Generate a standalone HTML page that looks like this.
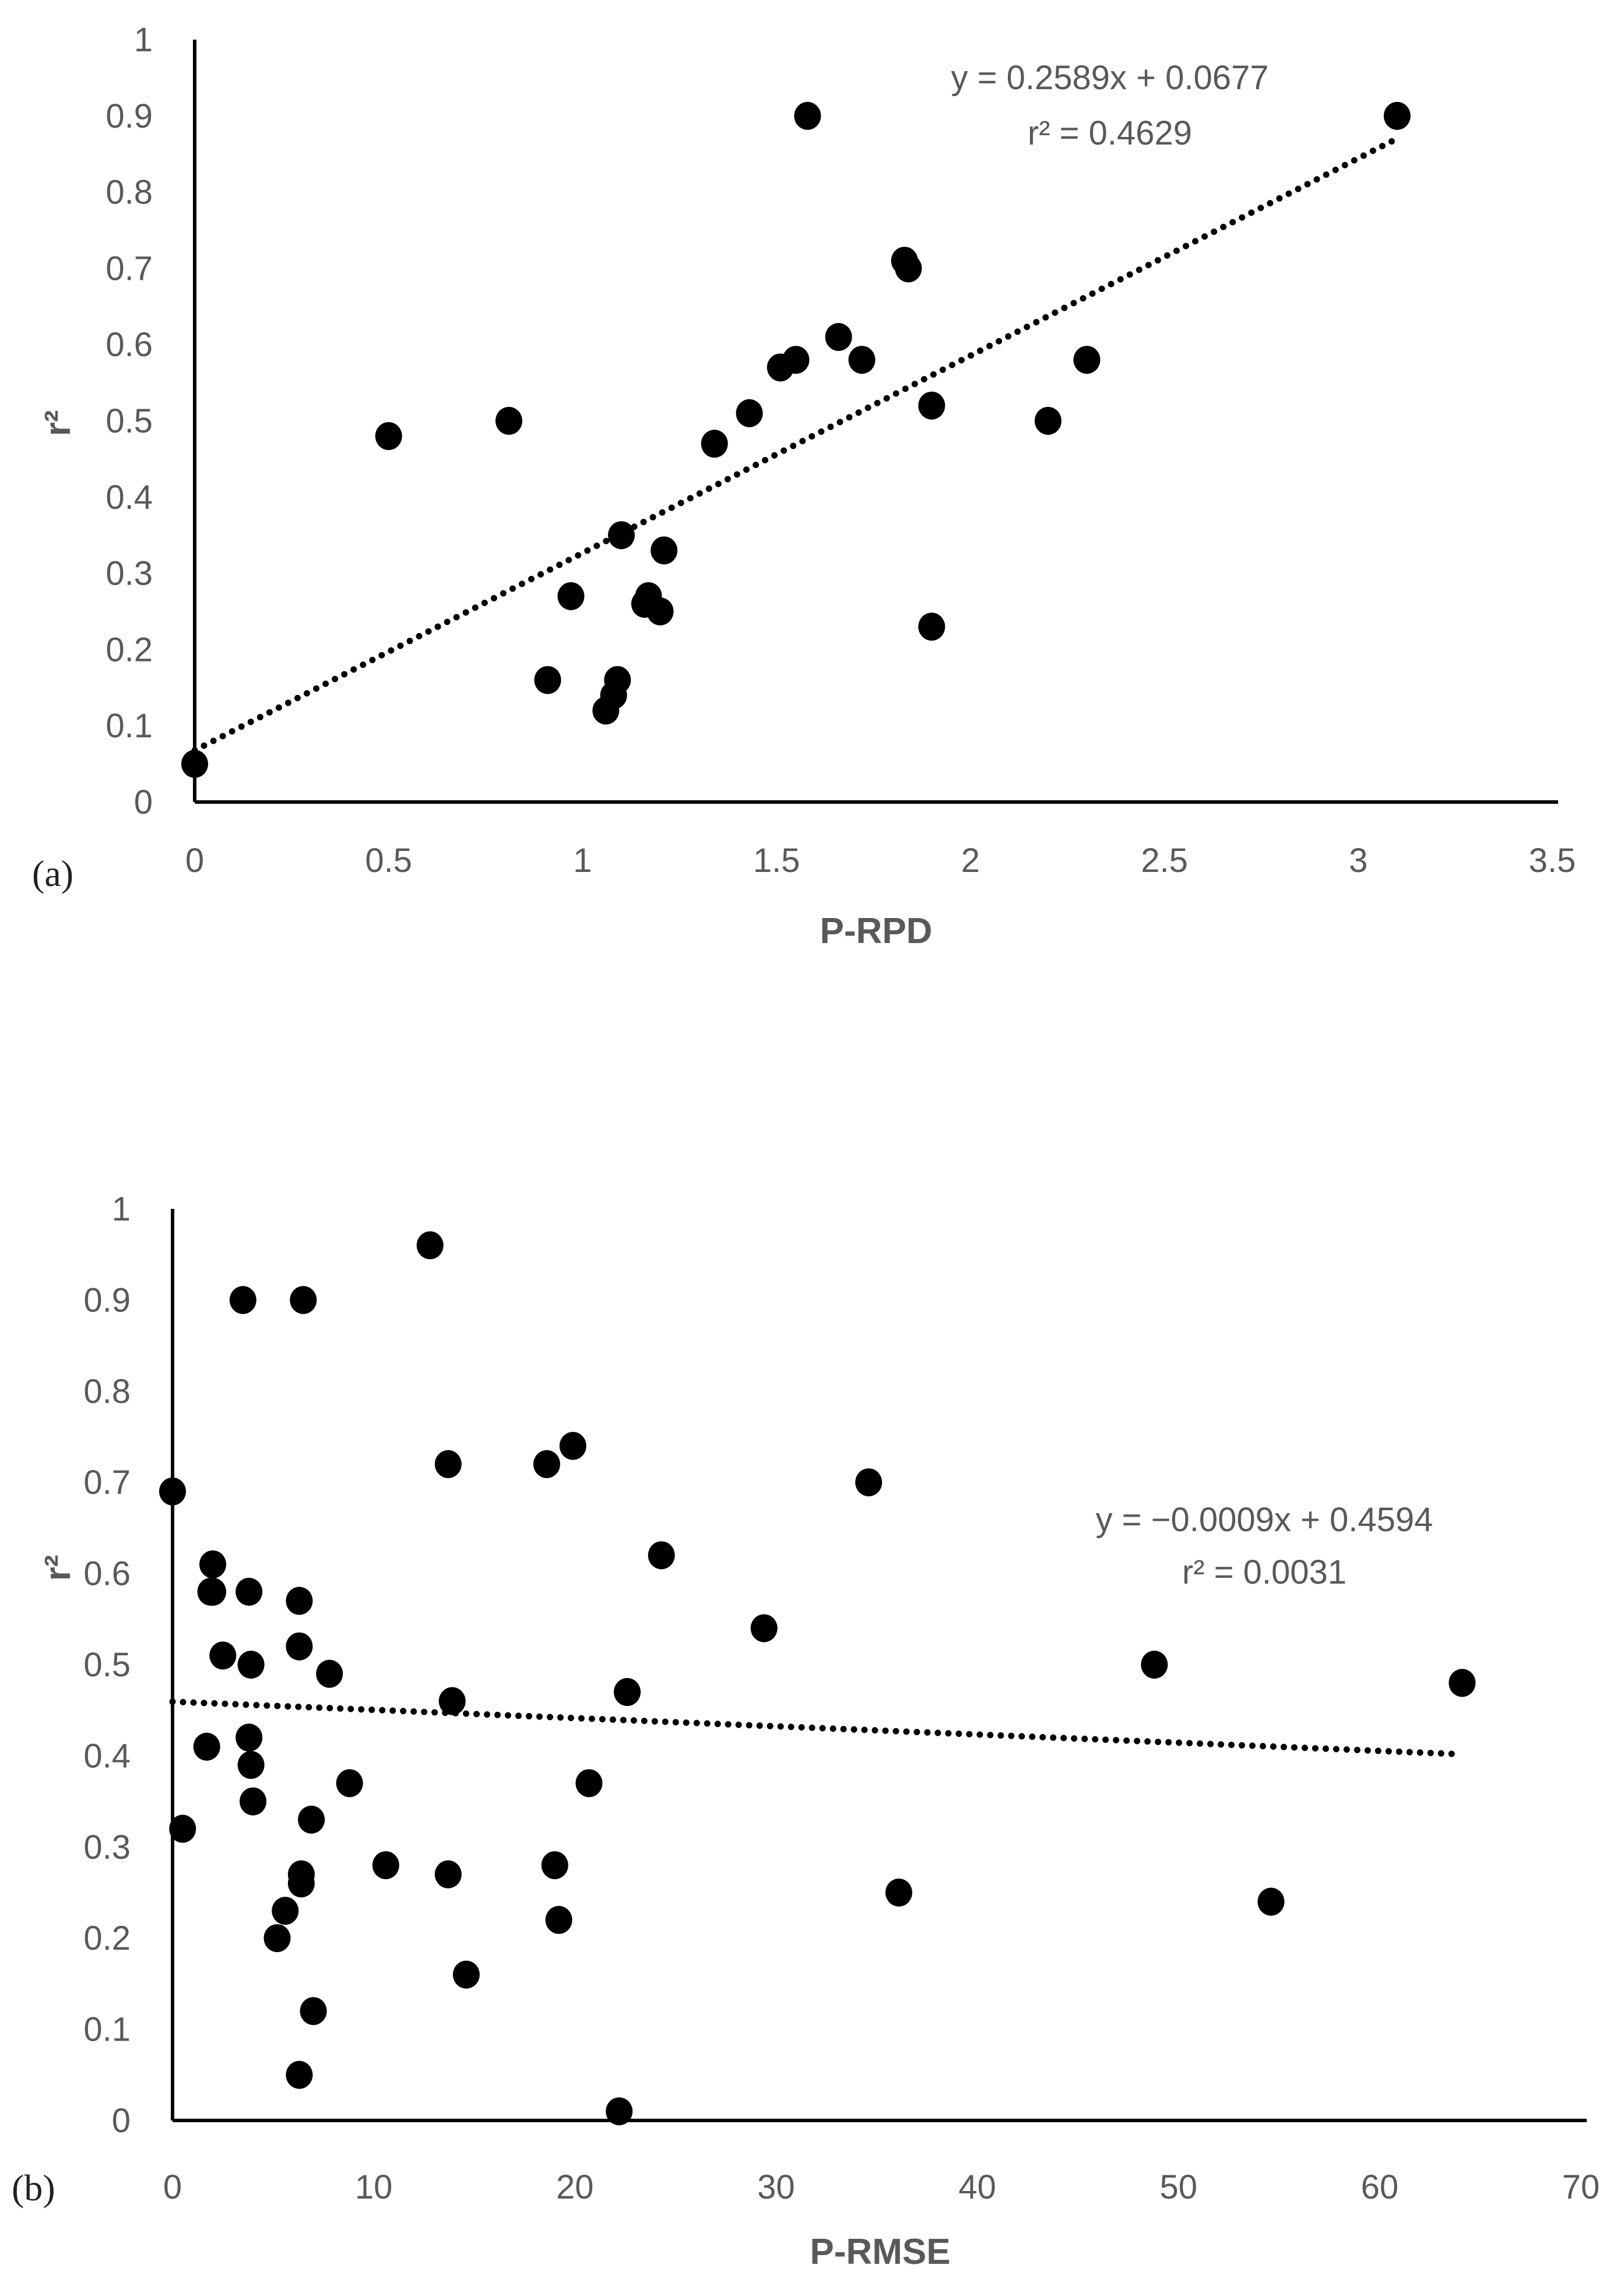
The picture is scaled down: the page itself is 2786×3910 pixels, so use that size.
<!DOCTYPE html>
<html><head><meta charset="utf-8"><style>
html,body{margin:0;padding:0;background:#fff}
svg{display:block}
text{font-family:"Liberation Sans Narrow","Liberation Sans",sans-serif;fill:#595959}
</style></head><body>
<svg id="svg" width="2786" height="3910" viewBox="0 0 2786 3910" xmlns="http://www.w3.org/2000/svg"></svg>
<script>
const aX=[0,0.5,0.81,0.91,0.97,1.06,1.08,1.09,1.1,1.16,1.17,1.2,1.21,1.34,1.43,1.51,1.55,1.58,1.66,1.72,1.83,1.84,1.9,1.9,2.2,2.3,3.1];
const aY=[0.05,0.48,0.5,0.16,0.27,0.12,0.14,0.16,0.35,0.26,0.27,0.25,0.33,0.47,0.51,0.57,0.58,0.9,0.61,0.58,0.71,0.7,0.52,0.23,0.5,0.58,0.9];
const bX=[0,0.5,1.7,1.9,2,2,2.5,3.5,3.8,3.8,3.9,3.9,4,5.2,5.6,6.3,6.3,6.4,6.4,6.3,6.5,6.9,7,7.8,8.8,10.6,12.8,13.7,13.7,13.9,14.6,18.6,19,19.2,19.9,20.7,22.2,22.6,24.3,29.4,34.6,36.1,48.8,54.6,64.1];
const bY=[0.69,0.32,0.41,0.58,0.61,0.58,0.51,0.9,0.58,0.42,0.5,0.39,0.35,0.2,0.23,0.57,0.52,0.27,0.26,0.05,0.9,0.33,0.12,0.49,0.37,0.28,0.96,0.72,0.27,0.46,0.16,0.72,0.28,0.22,0.74,0.37,0.01,0.47,0.62,0.54,0.7,0.25,0.5,0.24,0.48];
const aXTicks=["0","0.5","1","1.5","2","2.5","3","3.5"];
const bXTicks=["0","10","20","30","40","50","60","70"];
const yTicks=["0","0.1","0.2","0.3","0.4","0.5","0.6","0.7","0.8","0.9","1"];
const aTrend=[0.2589,0.0677], bTrend=[-0.0009,0.4594];

const svg=document.getElementById('svg');
const NS='http://www.w3.org/2000/svg';
function mk(tag,attrs,text){const e=document.createElementNS(NS,tag);for(const k in attrs)e.setAttribute(k,attrs[k]);if(text!==undefined)e.textContent=text;svg.appendChild(e);return e;}

function chart(p){
  const sx=v=>p.x0+(v-p.xmin)/(p.xmax-p.xmin)*(p.x1-p.x0);
  const sy=v=>p.y0-v*(p.y0-p.y1);
  let e;
  e=mk('line',{x1:p.x0,y1:p.y1,x2:p.x0,y2:p.y0,stroke:'#000','stroke-width':6});
  
  
  e=mk('line',{x1:p.x0,y1:p.y0,x2:p.x1+10,y2:p.y0,stroke:'#000','stroke-width':6});
  
  
  yTicks.forEach((t,i)=>{
    e=mk('text',{x:p.ylabX,y:sy(i/10)+20,'text-anchor':'end','font-size':58},t);
    
    
  });
  p.xt.forEach((t,i)=>{
    e=mk('text',{x:sx(p.xmin+i*(p.xmax-p.xmin)/(p.xt.length-1)),y:p.xlabY,'text-anchor':'middle','font-size':58},t);
    
    
  });
  const [m,c]=p.tr;
  e=mk('line',{x1:sx(0),y1:sy(c),x2:sx(p.trEnd),y2:sy(m*p.trEnd+c),stroke:'#000','stroke-width':11,'stroke-dasharray':'0 18','stroke-linecap':'round'});
  
  
  p.xs.forEach((x,i)=>{
    e=mk('ellipse',{cx:sx(x),cy:sy(p.ys[i]),rx:23,ry:24,fill:'#000'});
    
    
  });
}
chart({id:'chart-a',x0:334,x1:2663,xmin:0,xmax:3.5,y0:1376,y1:68,xs:aX,ys:aY,xt:aXTicks,tr:aTrend,trEnd:3.1,ylabX:262,xlabY:1496});
chart({id:'chart-b',x0:296,x1:2712,xmin:0,xmax:70,y0:3638,y1:2074,xs:bX,ys:bY,xt:bXTicks,tr:bTrend,trEnd:64,ylabX:224,xlabY:3772});
</script>
<div style="position:absolute;left:0;top:0;width:2786px;height:3910px;pointer-events:none">
<svg width="2786" height="3910" xmlns="http://www.w3.org/2000/svg" style="position:absolute;left:0;top:0">
<text x="1904" y="153" text-anchor="middle" font-size="58">y = 0.2589x + 0.0677</text>
<text x="1904" y="248" text-anchor="middle" font-size="58">r² = 0.4629</text>
<text x="1503" y="1618" text-anchor="middle" font-size="62" font-weight="bold">P-RPD</text>
<text x="0" y="0" transform="translate(120,726) rotate(-90)" text-anchor="middle" font-size="62" font-weight="bold">r²</text>
<text x="55" y="1520" font-size="64" style="font-family:'Liberation Serif',serif;fill:#222">(a)</text>
<text x="2169" y="2627" text-anchor="middle" font-size="58">y = −0.0009x + 0.4594</text>
<text x="2169" y="2717" text-anchor="middle" font-size="58">r² = 0.0031</text>
<text x="1510" y="3884" text-anchor="middle" font-size="62" font-weight="bold">P-RMSE</text>
<text x="0" y="0" transform="translate(120,2690) rotate(-90)" text-anchor="middle" font-size="62" font-weight="bold">r²</text>
<text x="20" y="3775" font-size="64" style="font-family:'Liberation Serif',serif;fill:#222">(b)</text>
</svg></div>
</body></html>
